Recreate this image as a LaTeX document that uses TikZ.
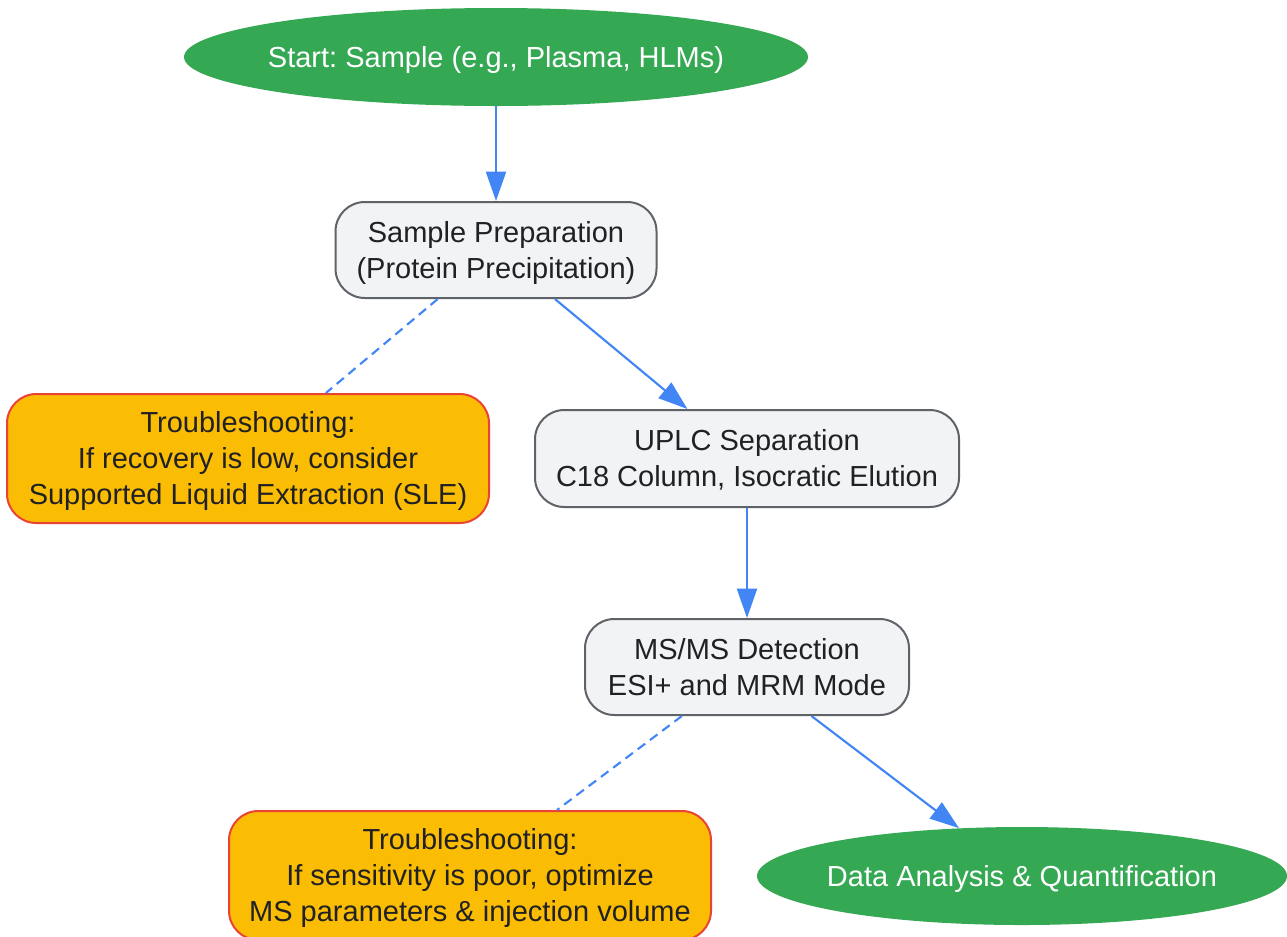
\documentclass[tikz,border=0pt]{standalone}
\usepackage{fontspec}
\setmainfont{Liberation Sans}
\usetikzlibrary{shapes.geometric,arrows.meta}
\frenchspacing
\definecolor{gGreen}{HTML}{34A853}
\definecolor{gBlue}{HTML}{4285F4}
\definecolor{gGrayFill}{HTML}{F1F3F4}
\definecolor{gGrayLine}{HTML}{5F6368}
\definecolor{gYellow}{HTML}{FBBC04}
\definecolor{gRed}{HTML}{EA4335}
\definecolor{gText}{HTML}{202124}
\newcommand{\topst}{\rule{0pt}{21pt}}
\newcommand{\botst}{\rule[-6pt]{0pt}{6pt}}
\tikzset{
  every node/.style={font=\fontsize{21.75pt}{27pt}\selectfont\frenchspacing, align=center, inner sep=0pt},
  terminal/.style={ellipse, fill=gGreen, text=white, draw=none},
  procbox/.style={rectangle, rounded corners=22pt, fill=gGrayFill, draw=gGrayLine, line width=1.5pt, text=gText},
  tipbox/.style={rectangle, rounded corners=22pt, fill=gYellow, draw=gRed, line width=1.5pt, text=gText},
  flow/.style={draw=gBlue, line width=1.6pt, -{Triangle[length=22pt,width=15pt]}},
  hint/.style={draw=gBlue, line width=1.6pt, dash pattern=on 7pt off 4.5pt}
}
\begin{document}
\begin{tikzpicture}[x=0.75pt,y=-0.75pt]
\useasboundingbox (0,0) rectangle (1287,936);
\node[terminal, minimum width=468pt, minimum height=73.5pt] (start) at (496,57) {\makebox[0pt]{\topst\botst Start: Sample (e.g., Plasma, HLMs)}};
\node[procbox, minimum width=240.75pt, minimum height=72pt] (prep) at (496,250) {\topst Sample Preparation\\(Protein Precipitation)\botst};
\node[tipbox, minimum width=361.5pt, minimum height=96.75pt] (t1) at (248,458.5) {\topst Troubleshooting:\\If recovery is low, consider\\Supported Liquid Extraction (SLE)\botst};
\node[procbox, minimum width=318pt, minimum height=72.75pt] (uplc) at (747,458.5) {\topst UPLC Separation\\C18 Column, Isocratic Elution\botst};
\node[procbox, minimum width=243pt, minimum height=72pt] (ms) at (747,667) {\topst MS/MS Detection\\ESI+ and MRM Mode\botst};
\node[tipbox, minimum width=361.5pt, minimum height=96.75pt] (t2) at (470,875.5) {\topst Troubleshooting:\\If sensitivity is poor, optimize\\MS parameters \& injection volume\botst};
\node[terminal, minimum width=397.5pt, minimum height=73.5pt] (data) at (1022,876) {\makebox[0pt]{\topst\botst Data Analysis \& Quantification}};
\draw[flow] (start) -- (prep);
\draw[flow] (prep) -- (uplc);
\draw[hint] (prep) -- (t1);
\draw[flow] (uplc) -- (ms);
\draw[hint] (ms) -- (t2);
\draw[flow] (ms) -- (data);
\end{tikzpicture}
\end{document}
